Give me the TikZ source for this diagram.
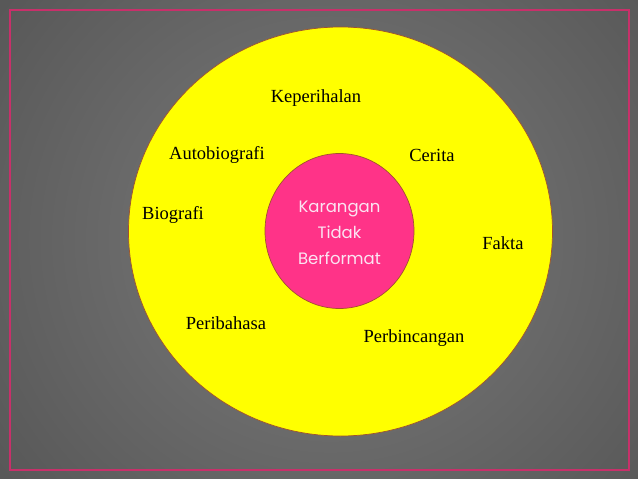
\documentclass[tikz,border=0pt]{standalone}
\usepackage{fontspec}
\setmainfont{Liberation Serif}
\newfontfamily\innerfont{Poppins}
\usetikzlibrary{shapes.geometric}
\definecolor{bgin}{HTML}{7C7C7C}
\definecolor{bgout}{HTML}{3A3A3A}
\definecolor{frame}{HTML}{C8306A}
\definecolor{sun}{HTML}{FFFF00}
\definecolor{rose}{HTML}{FF3388}
\definecolor{rim}{HTML}{A0522D}
\definecolor{pale}{HTML}{FBE4F2}
\tikzset{
  ring/.style={ellipse, draw=rim, line width=0.7pt, inner sep=0pt, outer sep=0pt},
  lbl/.style={font=\fontsize{18.5}{20}\selectfont, text=black, inner sep=0pt},
  core/.style={font=\innerfont\fontsize{16.5}{26}\selectfont, text=pale, align=center, inner sep=0pt}
}
\begin{document}
\begin{tikzpicture}[x=1pt,y=-1pt]
\useasboundingbox (0,0) rectangle (638,479);
\begin{scope}
\clip (0,0) rectangle (638,479);
\shade[inner color=bgin, outer color=bgout] (-420,-480) rectangle (1080,959);
\end{scope}
\draw[frame, line width=2pt] (10,9.5) rectangle (629,469.5);
\node[ring, fill=sun, minimum width=424pt, minimum height=409pt] (outer) at (340.5,231.5) {};
\node[ring, fill=rose, minimum width=149pt, minimum height=155pt] (inner) at (339.5,231) {};
\node[core] (title) at (339.5,233) {Karangan\\Tidak\\Berformat};
\node[lbl] (kep) at (316,98) {Keperihalan};
\node[lbl] (auto) at (217,155) {Autobiografi};
\node[lbl] (cer) at (432,155) {Cerita};
\node[lbl] (bio) at (173,215) {Biografi};
\node[lbl] (fak) at (503,243) {Fakta};
\node[lbl] (per) at (226,323) {Peribahasa};
\node[lbl] (perb) at (414,338) {Perbincangan};
\end{tikzpicture}
\end{document}
